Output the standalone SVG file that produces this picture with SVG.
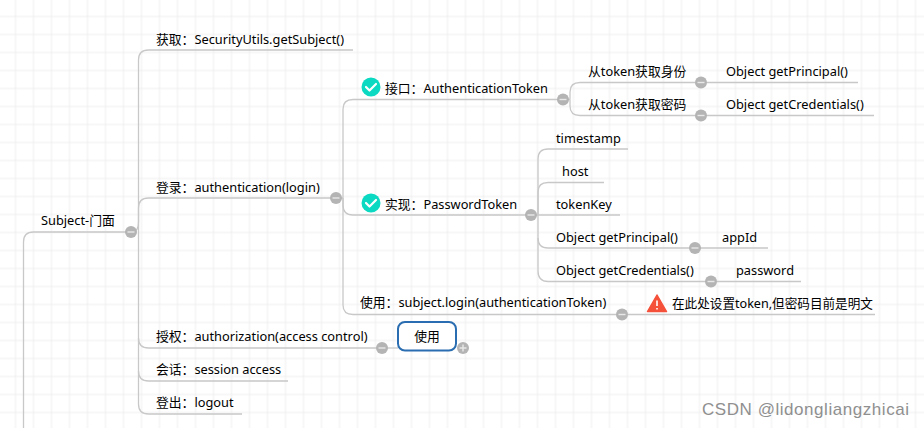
<svg xmlns="http://www.w3.org/2000/svg" width="924" height="428" viewBox="0 0 924 428">
<defs>
<pattern id="grid" width="18" height="18" patternUnits="userSpaceOnUse" x="6.5" y="7.5">
<path d="M9 0V18M0 9H18" fill="none" stroke="#eeeeee" stroke-width="1"/>
</pattern>
<g id="minus"><circle r="6" fill="#b4b4b4"/><path d="M-3.5 0H3.5" stroke="#e8e8e8" stroke-width="1.4"/></g>
<g id="plus"><circle r="6" fill="#b4b4b4"/><path d="M-3.5 0H3.5M0 -3.5V3.5" stroke="#e8e8e8" stroke-width="1.4"/></g>
<g id="check"><circle r="9.5" fill="#0bd9c1"/><path d="M-5 0L-1.5 3.5L5 -3" fill="none" stroke="#fff" stroke-width="2.2" stroke-linecap="round" stroke-linejoin="round"/></g>
</defs>
<style>
text{font-family:"Noto Sans","Noto Sans CJK SC",sans-serif;font-size:12.8px;fill:#000}
.l{fill:none;stroke:#c8c8c8;stroke-width:1.3}
text.wm{font-family:"Liberation Sans",sans-serif;font-size:17px;fill:#8f8f8f;letter-spacing:.55px}
</style>
<rect width="924" height="428" fill="#fff"/>
<rect width="924" height="428" fill="url(#grid)"/>
<g id="connectors">
<path class="l" d="M23.5 428V242Q23.5 232 33.5 232H131"/>
<path class="l" d="M138.5 232V60Q138.5 50 148.5 50H353"/>
<path class="l" d="M131 232H132Q138.5 232 138.5 222V208Q138.5 198 148.500 198H336"/>
<path class="l" d="M138.5 232V338Q138.500 348 148.500 348H382" stroke-width="1.6"/>
<path class="l" d="M398 348H382"/>
<path class="l" d="M138.500 338V371Q138.500 381 148.500 381H288"/>
<path class="l" d="M138.500 371V404Q138.500 414 148.500 414H242"/>
<path class="l" d="M336 198H343M343 198V109Q343 99.500 353 99.500H563"/>
<path class="l" d="M343 198V205Q343 215 353 215H531"/>
<path class="l" d="M343 198V305Q343 314.500 353 314.500H875"/>
<path class="l" d="M563 99.500H570M570 99.500V92Q570 82.500 580 82.500H858"/>
<path class="l" d="M570 99.500V106Q570 115.500 580 115.500H874"/>
<path class="l" d="M531 215H538M538 215V159Q538 149 548 149H628"/>
<path class="l" d="M538 215V192Q538 182.500 548 182.500H604"/>
<path class="l" d="M538 215H620"/>
<path class="l" d="M538 215V238Q538 248 548 248H768"/>
<path class="l" d="M538 238V271Q538 281.500 548 281.500H801"/>
</g>
<g id="n-root"><text x="41" y="225">Subject-门面</text><use href="#minus" x="131" y="232"/></g>
<g id="n-get"><text x="156" y="44">获取：SecurityUtils.getSubject()</text></g>
<g id="n-login"><text x="156" y="192">登录：authentication(login)</text><use href="#minus" x="336" y="198"/></g>
<g id="n-authz"><text x="156" y="341">授权：authorization(access control)</text><use href="#minus" x="382" y="348"/></g>
<g id="n-use"><rect x="398" y="322" width="58" height="28.500" rx="7" fill="#fff" stroke="#2a6db0" stroke-width="2"/><text x="427" y="341" text-anchor="middle">使用</text><use href="#plus" x="463" y="348"/></g>
<g id="n-session"><text x="156" y="374">会话：session access</text></g>
<g id="n-logout"><text x="156" y="407">登出：logout</text></g>
<g id="n-iface"><use href="#check" x="371" y="87"/><text x="385" y="93">接口：AuthenticationToken</text><use href="#minus" x="563" y="99.500"/></g>
<g id="n-impl"><use href="#check" x="371" y="203"/><text x="385" y="209">实现：PasswordToken</text><use href="#minus" x="531" y="215"/></g>
<g id="n-usage"><text x="360" y="307">使用：subject.login(authenticationToken)</text><use href="#minus" x="622" y="314.500"/></g>
<g id="n-id"><text x="588" y="76">从token获取身份</text><use href="#minus" x="701" y="82.500"/></g>
<g id="n-pw"><text x="588" y="109">从token获取密码</text><use href="#minus" x="701" y="115.500"/></g>
<g id="n-gp"><text x="726" y="76">Object getPrincipal()</text></g>
<g id="n-gc"><text x="726" y="109">Object getCredentials()</text></g>
<g id="n-ts"><text x="556" y="143">timestamp</text></g>
<g id="n-host"><text x="562" y="176">host</text></g>
<g id="n-tk"><text x="556" y="209">tokenKey</text></g>
<g id="n-gp2"><text x="556" y="242">Object getPrincipal()</text><use href="#minus" x="695" y="248"/></g>
<g id="n-appid"><text x="722" y="242">appId</text></g>
<g id="n-gc2"><text x="556" y="275">Object getCredentials()</text><use href="#minus" x="711" y="281.500"/></g>
<g id="n-pwd"><text x="736" y="275">password</text></g>
<g id="n-note"><path d="M657 295L666.500 311.500H647.500Z" fill="#f5513a" stroke="#f5513a" stroke-width="1.500" stroke-linejoin="round"/><path d="M657 300.500V306M657 308V309.500" stroke="#fff" stroke-width="1.600"/><text x="672" y="308" style="font-size:12.6px">在此处设置token,但密码目前是明文</text></g>
<text class="wm" x="702" y="415">CSDN @lidongliangzhicai</text>
</svg>
